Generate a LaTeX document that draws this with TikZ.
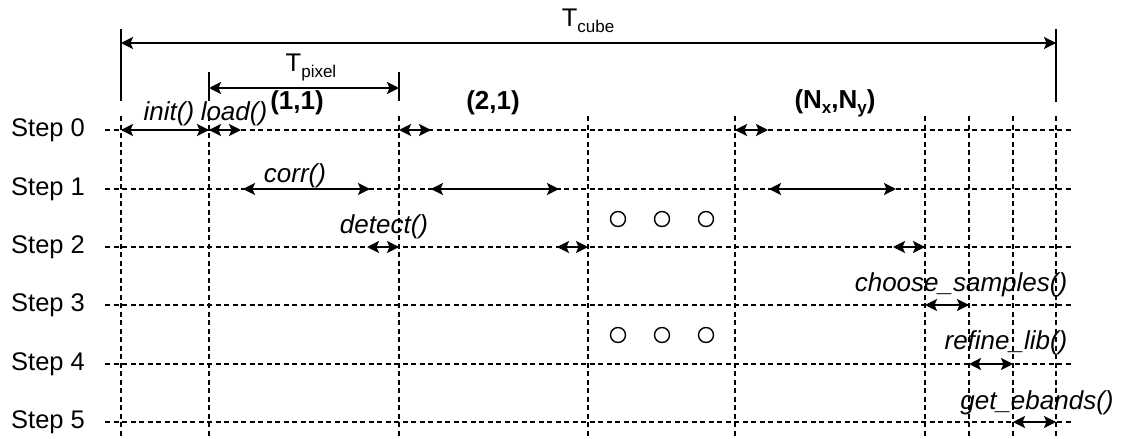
\documentclass[tikz,border=0pt]{standalone}
\usepackage{fontspec}
\setmainfont{Liberation Sans}
\usetikzlibrary{arrows.meta}
\begin{document}
\begin{tikzpicture}[x=1pt,y=-1pt,
  grid/.style={line width=1.4pt, dash pattern=on 5pt off 3.5pt},
  tip/.tip={Stealth[length=12pt,width=12pt,inset=2.5pt]},
  span/.style={line width=2pt, tip-tip},
  bar/.style={line width=2pt},
  lbl/.style={font=\fontsize{25.5}{30}\selectfont, inner sep=0pt},
  fn/.style={inner sep=0pt, font=\fontsize{26}{30}\selectfont\itshape},
  px/.style={inner sep=0pt, font=\fontsize{26}{30}\selectfont\bfseries},
  dot/.style={circle, draw, line width=1.4pt, minimum size=15pt, inner sep=0pt}]
\useasboundingbox (0,0) rectangle (1122,439);

% step rows
\foreach \i/\y in {0/130,1/189,2/247,3/305,4/364,5/422}{
  \node[lbl, anchor=west] (step\i) at (11,\y) {Step \i};
  \coordinate (row\i w) at (105,\y);
  \coordinate (row\i e) at (1071,\y);
  \draw[grid] (row\i w) -- (row\i e);
}

% time columns
\foreach \n/\x in {a/121,b/209,c/399,d/588,e/735,f/925,g/969,h/1013,k/1056}{
  \coordinate (col\n t) at (\x,116);
  \coordinate (col\n b) at (\x,439);
  \draw[grid] (col\n t) -- (col\n b);
}

% total cube time
\coordinate (cubeL1) at (121,29);  \coordinate (cubeL2) at (121,101);
\coordinate (cubeR1) at (1056,29); \coordinate (cubeR2) at (1056,102);
\coordinate (cubeA) at (121,43);   \coordinate (cubeB) at (1056,43);
\draw[bar] (cubeL1) -- (cubeL2);
\draw[bar] (cubeR1) -- (cubeR2);
\draw[span] (cubeA) -- (cubeB);
\node[lbl] (tcube) at (588,21) {T\raisebox{-6pt}{\fontsize{17}{17}\selectfont cube}};

% time per pixel
\coordinate (pixL1) at (209,72);  \coordinate (pixL2) at (209,101);
\coordinate (pixR1) at (399,72);  \coordinate (pixR2) at (399,101);
\coordinate (pixA) at (209,88);   \coordinate (pixB) at (399,88);
\draw[bar] (pixL1) -- (pixL2);
\draw[bar] (pixR1) -- (pixR2);
\draw[span] (pixA) -- (pixB);
\node[lbl] (tpixel) at (311,67) {T\raisebox{-6pt}{\fontsize{17}{17}\selectfont pixel}};

% pixel indices
\node[px] (p11) at (297,103) {(1,1)};
\node[px] (p21) at (493,103) {(2,1)};
\node[px] (pnn) at (835,103) {(N\raisebox{-5pt}{\fontsize{17}{17}\selectfont x},N\raisebox{-5pt}{\fontsize{17}{17}\selectfont y})};

% step 0
\coordinate (s0a) at (121,130); \coordinate (s0b) at (209,130);
\coordinate (s0c) at (241,130);
\coordinate (s0d) at (399,130); \coordinate (s0e) at (431,130);
\coordinate (s0f) at (735,130); \coordinate (s0g) at (768,130);
\draw[span] (s0a) -- (s0b);
\draw[span] (s0b) -- (s0c);
\draw[span] (s0d) -- (s0e);
\draw[span] (s0f) -- (s0g);
\node[fn] (finit) at (169,114) {init()};
\node[fn] (fload) at (234,114) {load()};

% step 1
\coordinate (s1a) at (243,189); \coordinate (s1b) at (370,189);
\coordinate (s1c) at (431,189); \coordinate (s1d) at (559,189);
\coordinate (s1e) at (769,189); \coordinate (s1f) at (896,189);
\draw[span] (s1a) -- (s1b);
\draw[span] (s1c) -- (s1d);
\draw[span] (s1e) -- (s1f);
\node[fn] (fcorr) at (295,176) {corr()};

% step 2
\coordinate (s2a) at (367,247); \coordinate (s2b) at (399,247);
\coordinate (s2c) at (557,247); \coordinate (s2d) at (588,247);
\coordinate (s2e) at (893,247); \coordinate (s2f) at (925,247);
\draw[span] (s2a) -- (s2b);
\draw[span] (s2c) -- (s2d);
\draw[span] (s2e) -- (s2f);
\node[fn] (fdetect) at (384,227) {detect()};

% steps 3-5
\coordinate (s3a) at (925,305); \coordinate (s3b) at (969,305);
\coordinate (s4a) at (969,364); \coordinate (s4b) at (1013,364);
\coordinate (s5a) at (1013,422); \coordinate (s5b) at (1056,422);
\draw[span] (s3a) -- (s3b);
\draw[span] (s4a) -- (s4b);
\draw[span] (s5a) -- (s5b);
\node[fn] (fchoose) at (961,285) {choose\_samples()};
\node[fn] (frefine) at (1006,343) {refine\_lib()};
\node[fn] (febands) at (1037,403) {get\_ebands()};

% ellipsis marks
\foreach \x [count=\k] in {618,662,706}{
  \node[dot] (dotu\k) at (\x,219) {};
  \node[dot] (dotl\k) at (\x,335) {};
}
\end{tikzpicture}
\end{document}
